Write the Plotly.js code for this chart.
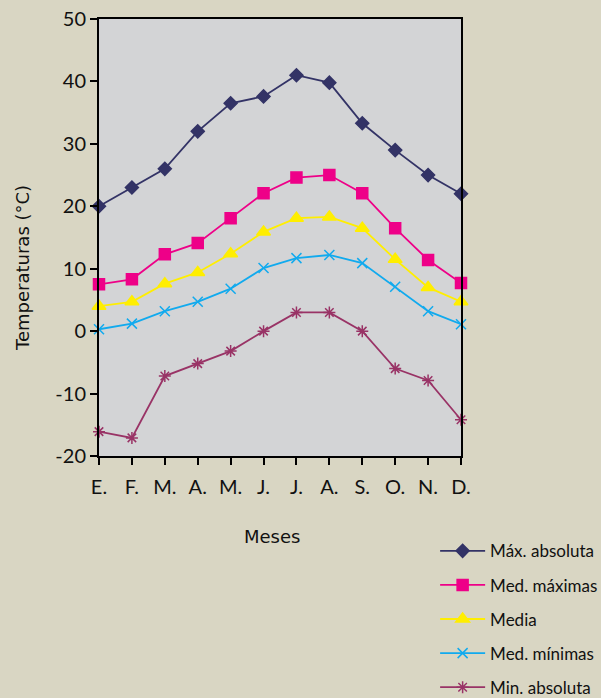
<!DOCTYPE html>
<html>
<head>
<meta charset="utf-8">
<script src="https://cdn.plot.ly/plotly-3.0.1.min.js"></script>
<style>html,body{margin:0;padding:0;background:#d9d6c3;}</style>
</head>
<body>
<div id="chart" style="width:601px;height:698px;"></div>
<script>
const months = ["E.", "F.", "M.", "A.", "M.", "J.", "J.", "A.", "S.", "O.", "N.", "D."];
const yTickVals = [-20, -10, 0, 10, 20, 30, 40, 50];
const yTickText = ["-20", "-10", "0", "10", "20", "30", "40", "50"];
const maxAbsoluta = [20, 23, 26, 32, 36.5, 37.6, 41, 39.8, 33.3, 29, 25, 22];
const medMaximas = [7.5, 8.3, 12.3, 14.1, 18.1, 22.1, 24.6, 25.0, 22.1, 16.5, 11.4, 7.7];
const media = [4.0, 4.7, 7.6, 9.4, 12.4, 15.9, 18.1, 18.3, 16.5, 11.5, 7.0, 4.7];
const medMinimas = [0.3, 1.2, 3.2, 4.7, 6.8, 10.1, 11.7, 12.2, 10.9, 7.1, 3.2, 1.1];
const minAbsoluta = [-16.1, -17.1, -7.2, -5.2, -3.2, 0, 3.0, 3.0, 0, -6.0, -7.9, -14.2];
const seriesNames = ["Máx. absoluta", "Med. máximas", "Media", "Med. mínimas", "Min. absoluta"];

const idx = months.map((m, i) => i);
const FONT = "Lato, 'Liberation Sans', sans-serif";
const TFONT = "'DejaVu Sans', Lato, sans-serif";

function tr(name, y, color, symbol, size, group) {
  return {
    x: idx, y: y, name: name, type: "scatter", mode: "lines+markers",
    legendgroup: group, cliponaxis: false,
    line: {color: color, width: 1.8},
    marker: {color: color, symbol: symbol, size: size, line: {color: color, width: 1.5}}
  };
}

const data = [
  tr(seriesNames[0], maxAbsoluta, "#333366", "diamond", 10, "g1"),
  tr(seriesNames[1], medMaximas, "#ee0088", "square", 11, "g2"),
  tr(seriesNames[2], media, "#ffee00", "triangle-up", 12, "g3"),
  tr(seriesNames[3], medMinimas, "#11aaee", "x-thin-open", 10, "g4"),
  tr(seriesNames[4], minAbsoluta, "#993366", "asterisk-open", 10, "g5")
];

const layout = {
  width: 601, height: 698,
  paper_bgcolor: "#d9d6c3",
  plot_bgcolor: "#d3d4d6",
  font: {family: FONT, color: "#111111", size: 18},
  margin: {l: 99, r: 140, t: 19, b: 242, pad: 0, autoexpand: false},
  showlegend: true,
  xaxis: {
    range: [0, 11], tickmode: "array", tickvals: idx, ticktext: months,
    showgrid: false, zeroline: false, showline: true, linecolor: "#000", linewidth: 2,
    mirror: true, ticks: "outside", ticklen: 7, tickwidth: 2, tickcolor: "#000",
    ticklabelstandoff: 5,
    tickfont: {size: 20, family: FONT}, fixedrange: true, automargin: false
  },
  yaxis: {
    range: [-20, 50], tickmode: "array", tickvals: yTickVals, ticktext: yTickText,
    showgrid: false, zeroline: false, showline: true, linecolor: "#000", linewidth: 2,
    mirror: true, ticks: "outside", ticklen: 7, tickwidth: 2, tickcolor: "#000",
    tickfont: {size: 20, family: FONT}, fixedrange: true, automargin: false
  },
  legend: {
    xref: "container", yref: "container",
    x: 0.724, xanchor: "left", y: 0.236, yanchor: "top",
    bgcolor: "rgba(0,0,0,0)", font: {size: 17, family: FONT},
    traceorder: "grouped", tracegroupgap: 9, itemclick: false, itemwidth: 45
  },
  annotations: [
    {text: "Meses", xref: "paper", yref: "paper", x: 0.478, y: -0.185, xanchor: "center", yanchor: "middle",
     showarrow: false, font: {size: 18, family: TFONT}},
    {text: "Temperaturas (°C)", xref: "paper", yref: "paper", x: -0.213, y: 0.43, xanchor: "center", yanchor: "middle",
     textangle: -90, showarrow: false, font: {size: 18, family: TFONT}}
  ]
};

Plotly.newPlot("chart", data, layout, {displayModeBar: false, staticPlot: true});
</script>
</body>
</html>
